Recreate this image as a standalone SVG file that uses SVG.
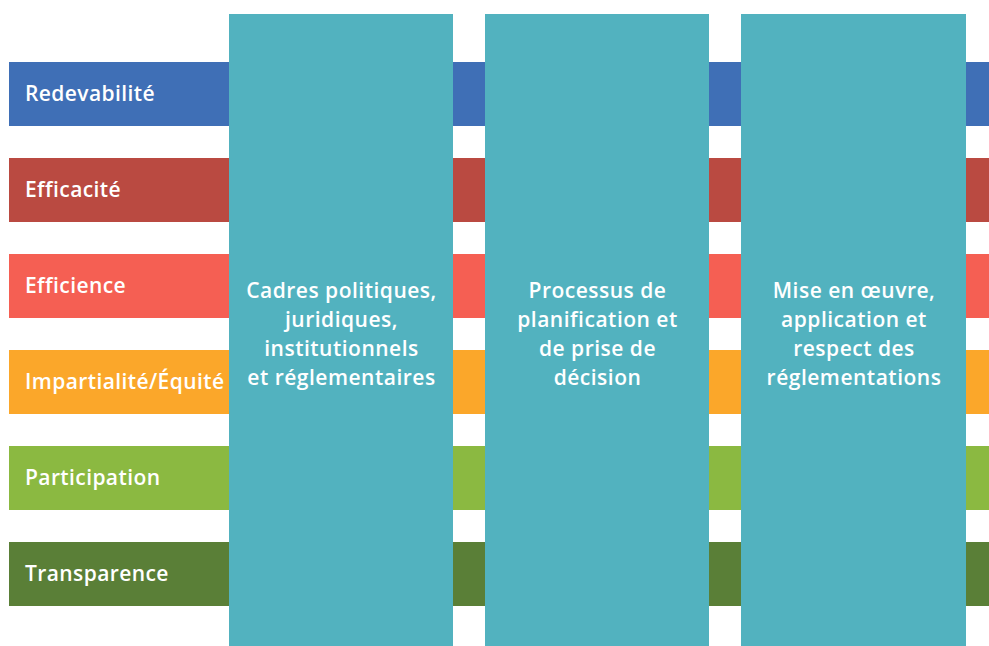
<svg xmlns="http://www.w3.org/2000/svg" width="989" height="646" viewBox="0 0 989 646">
<style>
.bar-label{font-family:"Open Sans","Liberation Sans",sans-serif;font-weight:600;font-size:21px;letter-spacing:0.4px;fill:#ffffff}
.col-label{font-family:"Open Sans","Liberation Sans",sans-serif;font-weight:600;font-size:21px;letter-spacing:0.5px;fill:#ffffff;text-anchor:middle}
.col{fill:#52B2BF}
</style>
<rect width="989" height="646" fill="#ffffff"/>
<g id="bars">
<g id="bar-redevabilite"><rect x="9" y="62" width="980" height="64" fill="#3F6FB6"/><text class="bar-label" x="25" y="101">Redevabilité</text></g>
<g id="bar-efficacite"><rect x="9" y="158" width="980" height="64" fill="#BA4A41"/><text class="bar-label" x="25" y="197">Efficacité</text></g>
<g id="bar-efficience"><rect x="9" y="254" width="980" height="64" fill="#F55F53"/><text class="bar-label" x="25" y="293">Efficience</text></g>
<g id="bar-impartialite"><rect x="9" y="350" width="980" height="64" fill="#FBA72A"/><text class="bar-label" x="25" y="389">Impartialité/Équité</text></g>
<g id="bar-participation"><rect x="9" y="446" width="980" height="64" fill="#8BB941"/><text class="bar-label" x="25" y="485">Participation</text></g>
<g id="bar-transparence"><rect x="9" y="542" width="980" height="64" fill="#5A7F37"/><text class="bar-label" x="25" y="581">Transparence</text></g>
</g>
<g id="col-cadres"><rect class="col" x="229" y="14" width="224" height="632"/>
<text class="col-label" x="341.5" y="298">Cadres politiques,</text>
<text class="col-label" x="341.5" y="327">juridiques,</text>
<text class="col-label" x="341.5" y="356">institutionnels</text>
<text class="col-label" x="341.5" y="385">et réglementaires</text></g>
<g id="col-processus"><rect class="col" x="485" y="14" width="224" height="632"/>
<text class="col-label" x="597.5" y="298">Processus de</text>
<text class="col-label" x="597.5" y="327">planification et</text>
<text class="col-label" x="597.5" y="356">de prise de</text>
<text class="col-label" x="597.5" y="385">décision</text></g>
<g id="col-miseenoeuvre"><rect class="col" x="741" y="14" width="225" height="632"/>
<text class="col-label" x="854" y="298">Mise en œuvre,</text>
<text class="col-label" x="854" y="327">application et</text>
<text class="col-label" x="854" y="356">respect des</text>
<text class="col-label" x="854" y="385">réglementations</text></g>
</svg>
